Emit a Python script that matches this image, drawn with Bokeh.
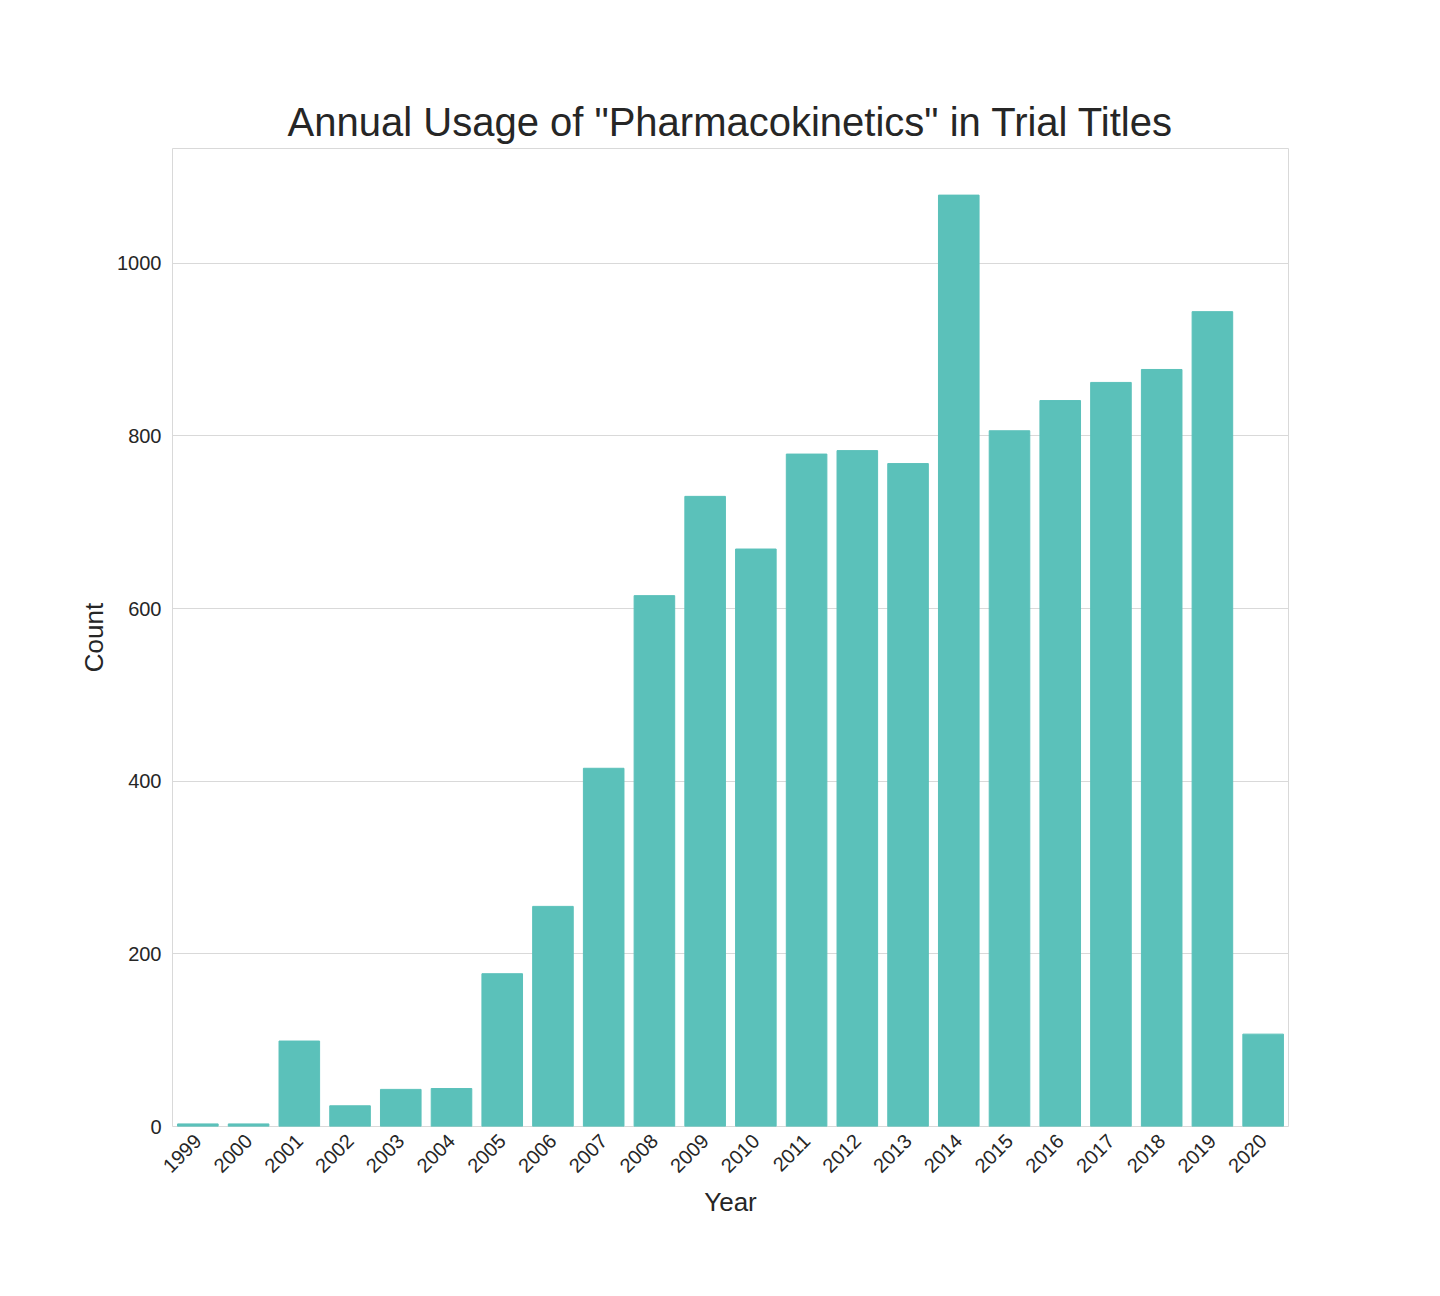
from bokeh.plotting import figure
from bokeh.models import Range1d, FactorRange
from bokeh.embed import file_html
from bokeh.resources import INLINE
import math

years = [str(y) for y in range(1999, 2021)]
counts = [3, 3, 99, 24, 43, 44, 177, 255, 415, 615, 730, 669,
          779, 783, 768, 1079, 806, 841, 862, 877, 944, 107]

FONT = "Liberation Sans"

p = figure(x_range=FactorRange(*years), y_range=Range1d(0, 1133),
           width=1424, height=1280, output_backend="svg", toolbar_location=None,
           title='Annual Usage of "Pharmacokinetics" in Trial Titles',
           min_border_left=172, min_border_right=136, min_border_top=148,
           min_border_bottom=154)
p.vbar(x=years, top=counts, width=0.8, color="#5bc1ba")

p.title.text_font = FONT
p.title.text_font_size = "40px"
p.title.text_font_style = "normal"
p.title.text_color = "#262626"
p.title.align = "center"

p.xaxis.axis_label = "Year"
p.yaxis.axis_label = "Count"
for ax in (p.xaxis, p.yaxis):
    ax.axis_label_text_font = FONT
    ax.axis_label_text_font_size = "26px"
    ax.axis_label_text_font_style = "normal"
    ax.axis_label_text_color = "#262626"
    ax.major_label_text_font = FONT
    ax.major_label_text_font_size = "20px"
    ax.major_label_text_color = "#262626"
    ax.axis_line_color = None
    ax.major_tick_line_color = None
    ax.minor_tick_line_color = None
p.xaxis.major_label_orientation = math.pi / 4
p.yaxis.ticker = [0, 200, 400, 600, 800, 1000]

p.xgrid.grid_line_color = None
p.ygrid.grid_line_color = "#d9d9d9"
p.outline_line_color = "#d9d9d9"

open("out.html", "w").write(file_html(p, INLINE))
